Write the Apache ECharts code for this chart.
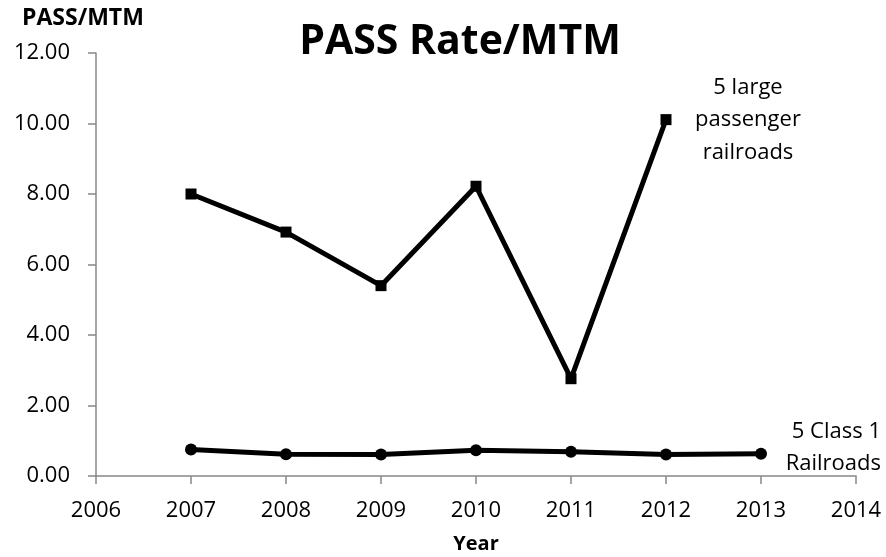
<!DOCTYPE html>
<html><head><meta charset="utf-8">
<script src="https://cdn.jsdelivr.net/npm/echarts@6/dist/echarts.min.js"></script>
<style>html,body{margin:0;padding:0;background:#fff}#c{width:886px;height:557px}</style>
</head><body><div id="c"></div>
<script>
const passYears = [2007, 2008, 2009, 2010, 2011, 2012];
const passValues = [8.00, 6.92, 5.40, 8.22, 2.76, 10.11];
const classYears = [2007, 2008, 2009, 2010, 2011, 2012, 2013];
const classValues = [0.75, 0.62, 0.61, 0.73, 0.69, 0.61, 0.63];
const passLabel = '5 large\npassenger\nrailroads';
const classLabel = '5 Class 1\nRailroads';
const F = '"Open Sans", "Liberation Sans", sans-serif';
const chart = echarts.init(document.getElementById('c'));
chart.setOption({
  animation: false,
  title: { text: 'PASS Rate/MTM', left: 455, top: 17, textAlign: 'center',
    textStyle: { fontFamily: F, fontWeight: 'bold', fontSize: 41, color: '#000' } },
  grid: { left: 96, right: 30, top: 53, bottom: 81, outerBoundsMode: 'none', containLabel: false },
  xAxis: { type: 'value', min: 2006, max: 2014, interval: 1,
    axisLine: { lineStyle: { color: '#888', width: 1.5 } },
    axisTick: { show: true, length: 8, lineStyle: { color: '#888', width: 1.5 } },
    splitLine: { show: false },
    axisLabel: { fontFamily: F, fontSize: 22, color: '#000', margin: 24,
      formatter: v => String(v) } },
  yAxis: { type: 'value', min: 0, max: 12, interval: 2,
    axisLine: { show: true, lineStyle: { color: '#888', width: 1.5 } },
    axisTick: { show: true, length: 8, lineStyle: { color: '#888', width: 1.5 } },
    splitLine: { show: false },
    axisLabel: { fontFamily: F, fontSize: 22, color: '#000', margin: 26,
      formatter: v => v.toFixed(2) } },
  graphic: [
    { type: 'text', left: 22, top: 7, style: { text: 'PASS/MTM', fontFamily: F, fontWeight: 'bold', fontSize: 23, fill: '#000' } },
    { type: 'text', x: 476, y: 534, style: { text: 'Year', fontFamily: F, fontWeight: 'bold', fontSize: 20, fill: '#000', align: 'center' } },
    { type: 'text', x: 748, y: 71, style: { text: passLabel, fontFamily: F, fontSize: 22, lineHeight: 32.5, fill: '#000', align: 'center' } },
    { type: 'text', x: 881, y: 416, style: { text: classLabel, fontFamily: F, fontSize: 22, lineHeight: 31.5, fill: '#000', align: 'right' } }
  ],
  series: [
    { type: 'line', data: passYears.map((y, i) => [y, passValues[i]]),
      symbol: 'rect', symbolSize: 11, lineStyle: { color: '#000', width: 5 },
      itemStyle: { color: '#000' } },
    { type: 'line', data: classYears.map((y, i) => [y, classValues[i]]),
      symbol: 'circle', symbolSize: 12, lineStyle: { color: '#000', width: 5 },
      itemStyle: { color: '#000' } }
  ]
});
</script></body></html>
